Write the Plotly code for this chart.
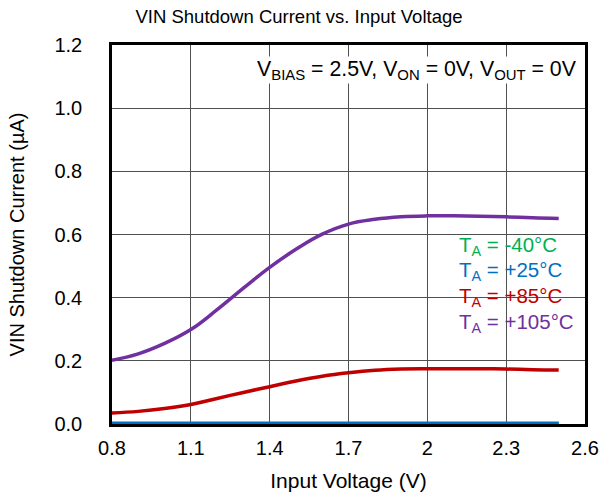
import plotly.graph_objects as go

vin = [0.8, 0.9, 1.0, 1.1, 1.2, 1.3, 1.4, 1.5, 1.6, 1.7, 1.8, 1.9, 2.0, 2.1, 2.2, 2.3, 2.4, 2.5]
i_m40 = [0.001] * 18
i_25 = [0.002] * 18
i_85 = [0.035, 0.040, 0.049, 0.062, 0.081, 0.100, 0.118, 0.136, 0.151, 0.162, 0.170, 0.174,
        0.175, 0.175, 0.175, 0.174, 0.172, 0.171]
i_105 = [0.202, 0.222, 0.255, 0.299, 0.362, 0.430, 0.496, 0.553, 0.601, 0.633, 0.648, 0.656,
         0.659, 0.659, 0.658, 0.656, 0.653, 0.651]

x_ticks = [0.8, 1.1, 1.4, 1.7, 2.0, 2.3, 2.6]
x_tick_labels = ["0.8", "1.1", "1.4", "1.7", "2", "2.3", "2.6"]
y_ticks = [0.0, 0.2, 0.4, 0.6, 0.8, 1.0, 1.2]
y_tick_labels = ["0.0", "0.2", "0.4", "0.6", "0.8", "1.0", "1.2"]

series = [
    ("T<sub>A</sub> = -40°C", i_m40, "#00B050"),
    ("T<sub>A</sub> = +25°C", i_25, "#0070C0"),
    ("T<sub>A</sub> = +85°C", i_85, "#C00000"),
    ("T<sub>A</sub> = +105°C", i_105, "#7030A0"),
]

FONT = "Liberation Sans, Arial, sans-serif"
L, R, T, B = 112, 585, 45, 424
fig = go.Figure()
for name, ys, col in series:
    fig.add_trace(go.Scatter(x=vin, y=ys, mode="lines", name=name,
                             line=dict(color=col, width=3.5, shape="spline", smoothing=1.2),
                             showlegend=False, cliponaxis=False))

legend_y = [246, 271, 297, 323]
for (name, ys, col), py in zip(series, legend_y):
    fig.add_annotation(text=name, xref="paper", yref="paper",
                       x=(457 - L) / (R - L), y=(B - py) / (B - T),
                       xanchor="left", yanchor="middle", showarrow=False,
                       font=dict(family=FONT, size=20.5, color=col))

fig.add_annotation(text="V<sub>BIAS</sub> = 2.5V, V<sub>ON</sub> = 0V, V<sub>OUT</sub> = 0V",
                   xref="paper", yref="paper", x=(578 - L) / (R - L), y=(B - 70) / (B - T),
                   xanchor="right", yanchor="middle", showarrow=False,
                   bgcolor="white", borderpad=0,
                   font=dict(family=FONT, size=21.3, color="black"))

fig.update_layout(
    width=601, height=500,
    margin=dict(l=L, r=601 - R, t=T, b=500 - B),
    paper_bgcolor="white", plot_bgcolor="white",
    font=dict(family=FONT, size=20, color="black"),
    title=dict(text="VIN Shutdown Current vs. Input Voltage", x=299 / 601,
               xanchor="center", y=1 - 17 / 500, yanchor="middle",
               font=dict(family=FONT, size=18.5, color="black")),
)
fig.update_xaxes(range=[0.8, 2.6], tickvals=x_ticks, ticktext=x_tick_labels,
                 showgrid=True, gridcolor="#505050", gridwidth=1,
                 showline=True, linecolor="black", linewidth=2.5, mirror=True,
                 zeroline=False, ticks="", ticklen=0, automargin=False,
                 ticklabelstandoff=4,
                 title=dict(text="Input Voltage (V)", standoff=16,
                            font=dict(family=FONT, size=21)),
                 tickfont=dict(family=FONT, size=20))
fig.update_yaxes(range=[0, 1.2], tickvals=y_ticks, ticktext=y_tick_labels,
                 showgrid=True, gridcolor="#505050", gridwidth=1,
                 showline=True, linecolor="black", linewidth=2.5, mirror=True,
                 zeroline=False, ticks="", ticklen=0, automargin=False,
                 ticklabelstandoff=23,
                 title=dict(text="VIN Shutdown Current (µA)", standoff=25,
                            font=dict(family=FONT, size=20)),
                 tickfont=dict(family=FONT, size=20))

fig.write_html("out.html", config={"displayModeBar": False},
               post_script="document.body.style.margin='0px';")
